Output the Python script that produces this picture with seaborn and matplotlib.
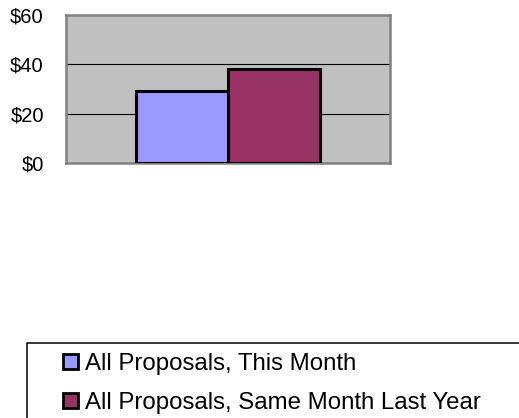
import pandas as pd
import matplotlib
matplotlib.use("Agg")
import matplotlib.pyplot as plt
from matplotlib.patches import Patch, Rectangle
import seaborn as sns

# --- chart data ---
series = ["All Proposals, This Month", "All Proposals, Same Month Last Year"]
values = [29, 38]
colors = ["#9999FF", "#993366"]
y_ticks = [0, 20, 40, 60]
y_tick_labels = ["$0", "$20", "$40", "$60"]

df = pd.DataFrame({"group": ["All"] * len(series), "series": series, "value": values})

sns.set_style("white")
plt.rcParams["font.family"] = ["Liberation Sans", "DejaVu Sans"]
plt.rcParams["text.color"] = "black"
plt.rcParams["ytick.color"] = "black"

fig = plt.figure(figsize=(5.19, 4.18), dpi=100)
W, H = 519, 418
ax = fig.add_axes([66 / W, (H - 163) / H, 324 / W, 148 / H])
ax.set_facecolor("#C0C0C0")

sns.barplot(
    data=df, x="group", y="value", hue="series", palette=colors, saturation=1,
    edgecolor="black", linewidth=2.2, ax=ax, legend=False, zorder=3,
)

ax.set_ylim(0, 60)
ax.set_xlim(-0.704, 0.704)
ax.set_yticks(y_ticks)
ax.set_yticklabels(y_tick_labels, fontsize=14.5)
ax.set_xticks([])
ax.set_xlabel("")
ax.set_ylabel("")
ax.tick_params(axis="y", length=0, pad=16, labelcolor="black")
for y in y_ticks[1:-1]:
    ax.axhline(y, color="black", linewidth=0.8, zorder=1)
for s in ax.spines.values():
    s.set_visible(True)
    s.set_color("#808080")
    s.set_linewidth(1.8)

# legend box running off the bottom/right of the figure
fig.patches.append(Rectangle((27 / W, -0.1), 1.0, (H - 343) / H + 0.1,
                             transform=fig.transFigure, fill=False,
                             edgecolor="black", linewidth=1.1))
handles = [Patch(facecolor=c, edgecolor="black", linewidth=2.0) for c in colors]
fig.legend(handles, series, loc="upper left", bbox_to_anchor=(63 / W, (H - 353) / H),
           frameon=False, fontsize=17.3, handlelength=0.62, handleheight=0.62,
           handletextpad=0.28, labelspacing=0.7, borderpad=0, borderaxespad=0)

fig.savefig("out.png", dpi=100)
